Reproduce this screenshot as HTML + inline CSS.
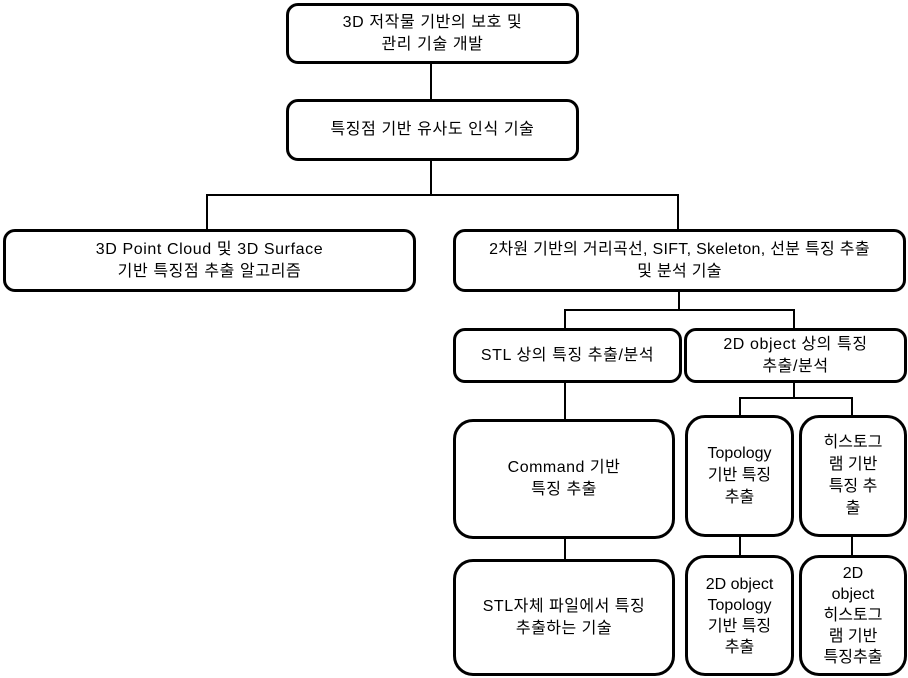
<!DOCTYPE html>
<html><head><meta charset="utf-8"><style>
body{margin:0;width:908px;height:678px;background:#fff;position:relative;overflow:hidden;font-family:"Liberation Sans","Noto Sans CJK KR",sans-serif;font-size:16px;color:#000}
.b{position:absolute;box-sizing:border-box;border:3px solid #000;border-radius:12px;display:flex;align-items:center;justify-content:center;text-align:center;line-height:22px;background:#fff;letter-spacing:0.6px}
.r{border-radius:20px;letter-spacing:0}
.l{position:absolute;background:#000}
</style></head><body>
<div class="l" style="left:430px;top:62px;width:2px;height:38px"></div>
<div class="l" style="left:430px;top:159px;width:2px;height:37px"></div>
<div class="l" style="left:206px;top:194px;width:473px;height:2px"></div>
<div class="l" style="left:206px;top:194px;width:2px;height:37px"></div>
<div class="l" style="left:677px;top:194px;width:2px;height:37px"></div>
<div class="l" style="left:678px;top:290px;width:2px;height:20px"></div>
<div class="l" style="left:564px;top:309px;width:231px;height:2px"></div>
<div class="l" style="left:564px;top:309px;width:2px;height:21px"></div>
<div class="l" style="left:793px;top:309px;width:2px;height:21px"></div>
<div class="l" style="left:564px;top:381px;width:2px;height:40px"></div>
<div class="l" style="left:793px;top:381px;width:2px;height:18px"></div>
<div class="l" style="left:739px;top:397px;width:114px;height:2px"></div>
<div class="l" style="left:739px;top:397px;width:2px;height:20px"></div>
<div class="l" style="left:851px;top:397px;width:2px;height:20px"></div>
<div class="l" style="left:564px;top:537px;width:2px;height:24px"></div>
<div class="l" style="left:739px;top:535px;width:2px;height:22px"></div>
<div class="l" style="left:851px;top:535px;width:2px;height:22px"></div>

<div class="b" style="left:286px;top:3px;width:293px;height:61px">3D 저작물 기반의 보호 및<br>관리 기술 개발</div>
<div class="b" style="left:286px;top:99px;width:293px;height:62px">특징점 기반 유사도 인식 기술</div>
<div class="b" style="left:3px;top:229px;width:413px;height:63px">3D Point Cloud 및 3D Surface<br>기반 특징점 추출 알고리즘</div>
<div class="b" style="left:453px;top:229px;width:453px;height:63px;letter-spacing:0.3px">2차원 기반의 거리곡선, SIFT, Skeleton, 선분 특징 추출<br>및 분석 기술</div>
<div class="b" style="left:453px;top:328px;width:229px;height:55px">STL 상의 특징 추출/분석</div>
<div class="b" style="left:684px;top:328px;width:223px;height:55px">2D object 상의 특징<br>추출/분석</div>
<div class="b r" style="left:453px;top:419px;width:222px;height:120px;letter-spacing:0.5px">Command 기반<br>특징 추출</div>
<div class="b r" style="left:685px;top:415px;width:109px;height:122px">Topology<br>기반 특징<br>추출</div>
<div class="b r" style="left:799px;top:415px;width:108px;height:122px">히스토그<br>램 기반<br>특징 추<br>출</div>
<div class="b r" style="left:453px;top:559px;width:222px;height:117px;letter-spacing:0.5px">STL자체 파일에서 특징<br>추출하는 기술</div>
<div class="b r" style="left:685px;top:555px;width:109px;height:121px;line-height:21px">2D object<br>Topology<br>기반 특징<br>추출</div>
<div class="b r" style="left:799px;top:555px;width:108px;height:121px;line-height:21px">2D<br>object<br>히스토그<br>램 기반<br>특징추출</div>
</body></html>
